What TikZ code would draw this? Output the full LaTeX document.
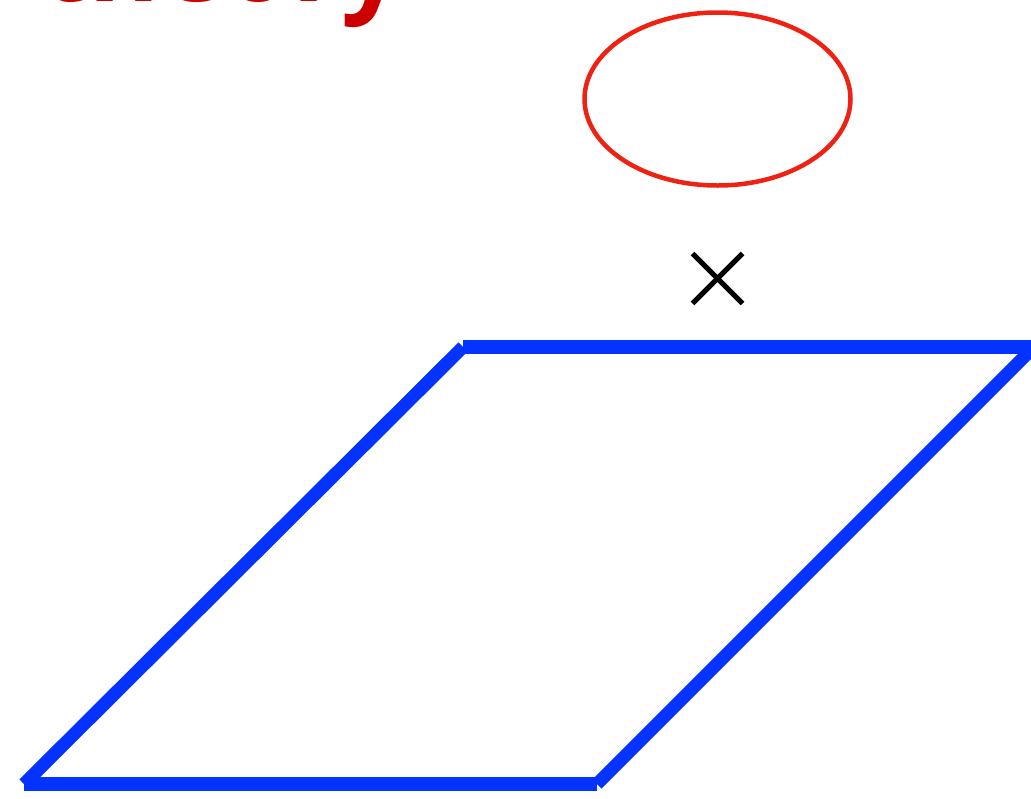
\documentclass[tikz,border=0pt]{standalone}
\usepackage{fontspec}
\setmainfont{Open Sans}
\definecolor{heading}{HTML}{CC0000}
\definecolor{ring}{HTML}{EE2212}
\definecolor{plane}{HTML}{0433FF}
\tikzset{
  ringline/.style={ring,line width=0.09cm},
  crossbar/.style={black,line width=0.1cm},
  planetop/.style={plane,line width=0.28cm},
  planeside/.style={plane,line width=0.26cm},
}

\begin{document}
\begin{tikzpicture}[x=0.02cm,y=-0.02cm]

% ---------------------------------------------------------------- frame
\clip (0,0) rectangle (1031,798);

% ---------------------------------------------------------------- title, cut at the top
\node[heading,font=\fontsize{62}{64}\selectfont\bfseries,anchor=base west,inner sep=0pt]
     (title) at (41,1) {theory};

% ---------------------------------------------------------------- ellipse and cross
\draw[ringline] (717.5,99) ellipse [x radius=133, y radius=86.5];
\coordinate (cx) at (717.5,278.5);
\draw[crossbar] ([shift={(-25,-25)}]cx) -- ([shift={(25,25)}]cx);
\draw[crossbar] ([shift={(-25,25)}]cx) -- ([shift={(25,-25)}]cx);

% ---------------------------------------------------------------- plane
\coordinate (bl) at (24,784);
\coordinate (br) at (597,784);
\coordinate (tl) at (463,347);
\coordinate (tr) at (1034,347);
\draw[planeside] (bl) -- (tl);
\draw[planeside] (br) -- (tr);
\draw[planetop] (tl) -- (tr);
\draw[planetop] (bl) -- (br);

\end{tikzpicture}
\end{document}
